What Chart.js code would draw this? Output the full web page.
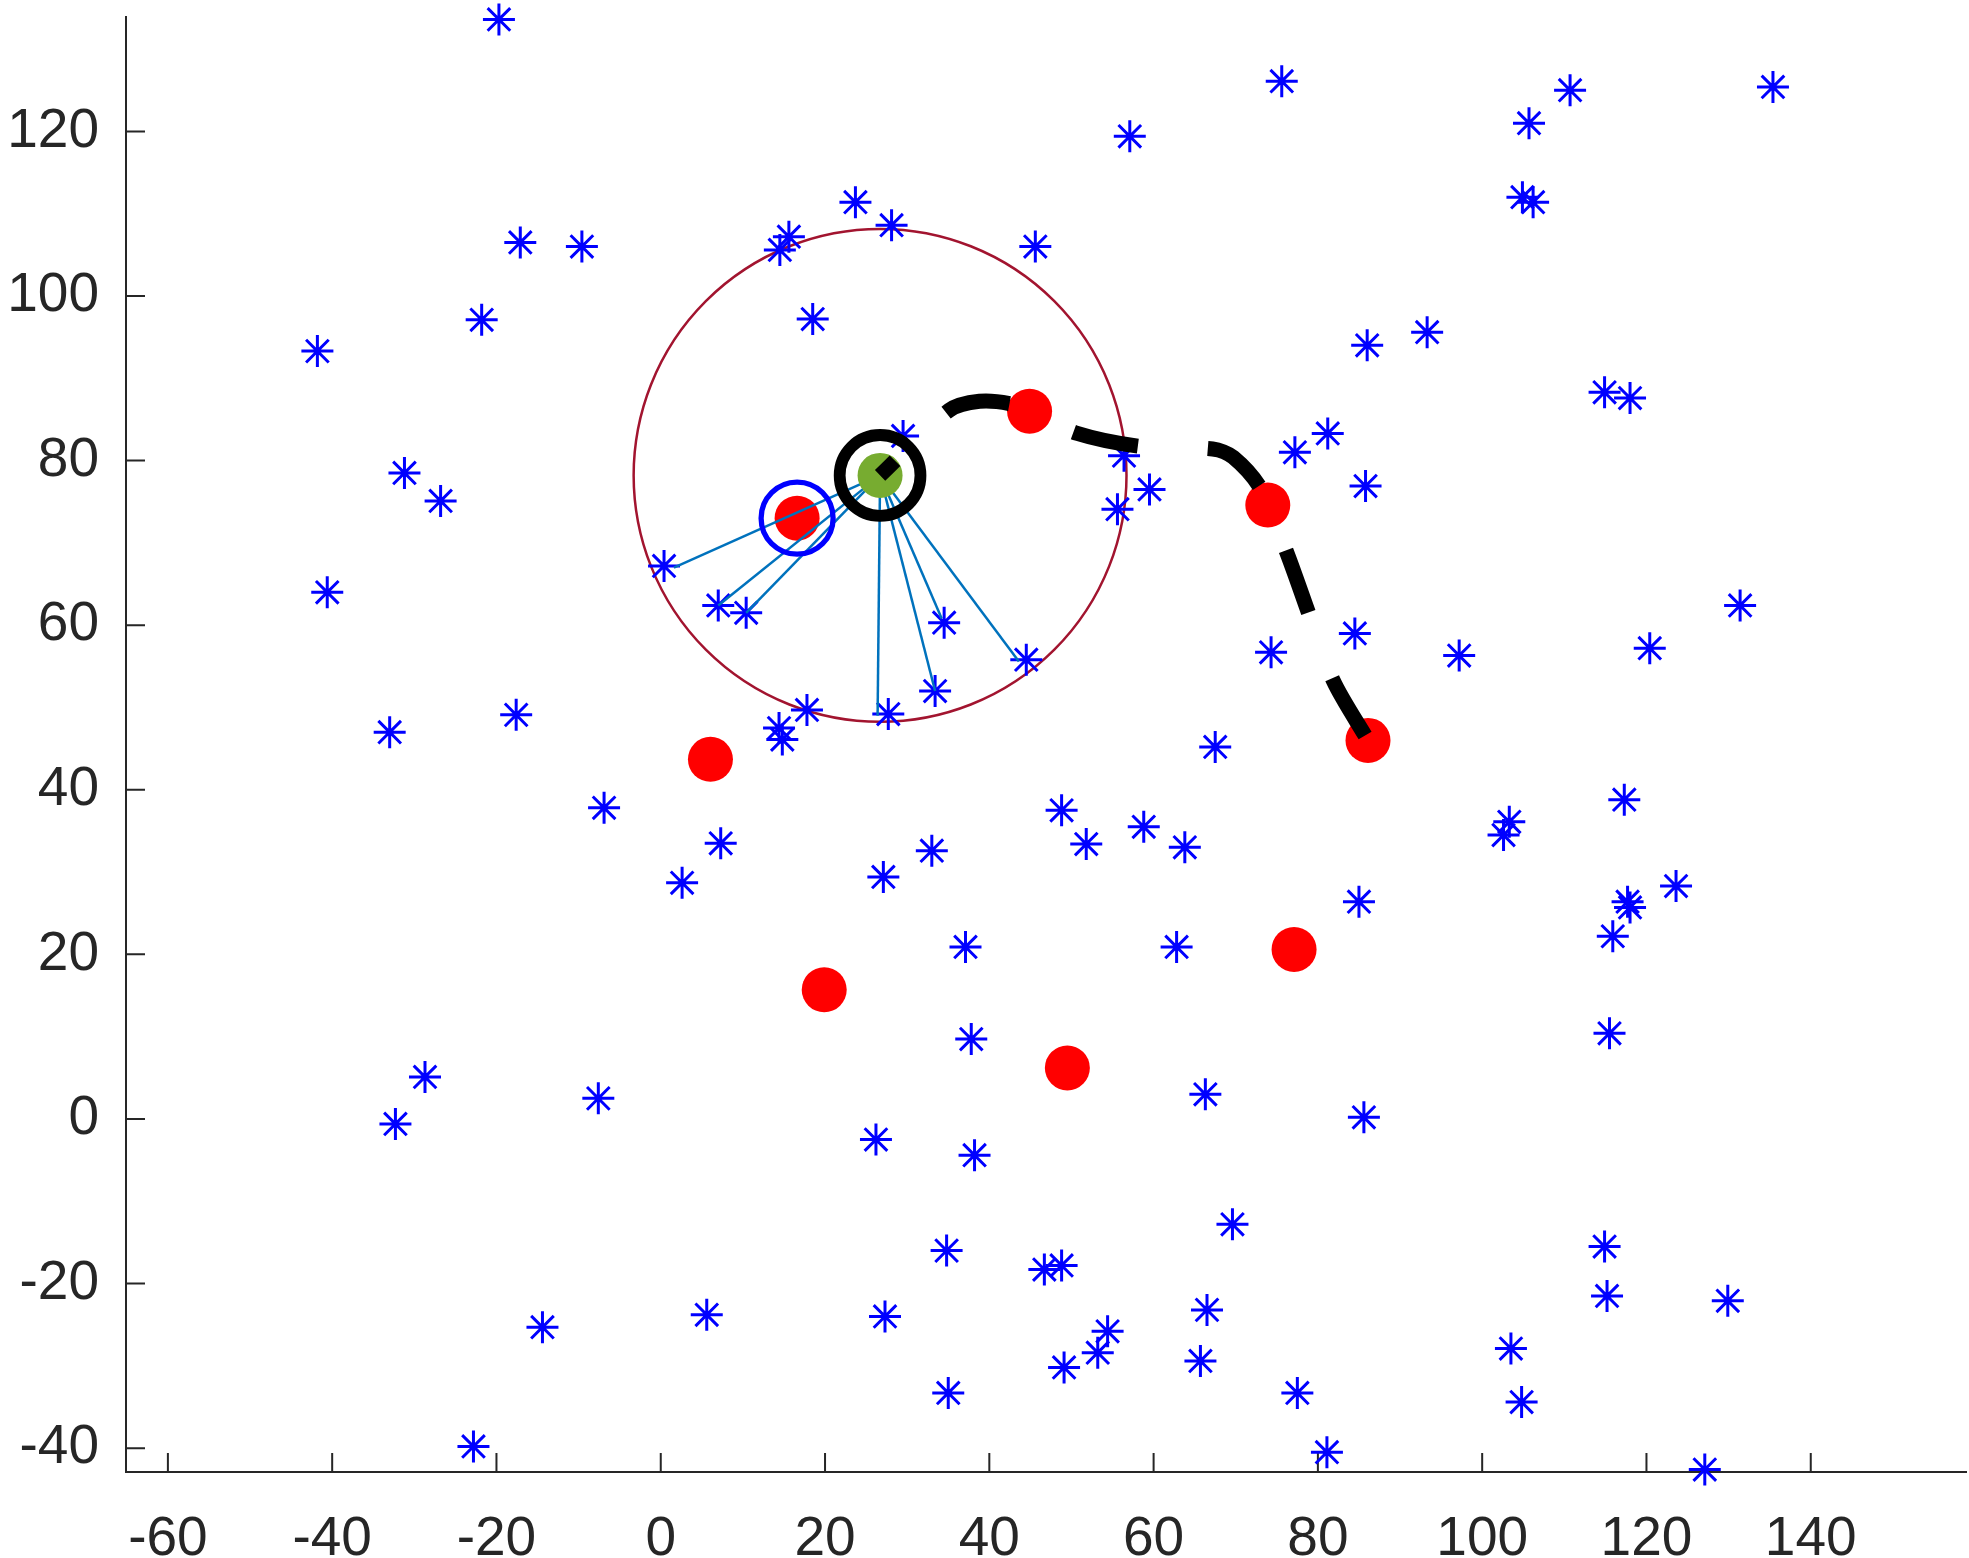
<!DOCTYPE html>
<html>
<head>
<meta charset="utf-8">
<script src="https://cdn.jsdelivr.net/npm/chart.js@4"></script>
<style>
  body { margin: 0; background: #fff; }
  canvas { display: block; }
</style>
</head>
<body>
<canvas id="grafico" width="1969" height="1558"></canvas>
<script>
// - Asteriscos (nos)

const starX = [-19.7, -41.8, -17.1, -9.6, -21.8, -31.2, -26.8, -40.6, -33.0, -17.6,
  -6.9, 7.3, 2.6, -28.7, -32.3, -7.6, -14.4, -22.8, 5.6, 0.4,
  7.0, 10.4, 14.4, 14.8, 17.8, 27.7, 33.4, 34.5, 44.5, 14.5,
  15.6, 23.7, 28.1, 18.5, 45.6, 29.5, 57.1, 75.6, 56.4, 59.5,
  55.6, 77.2, 81.2, 86.0, 93.3, 85.8, 74.3, 84.5, 97.2, 67.5,
  105.7, 110.7, 135.4, 104.9, 106.2, 114.9, 118.0, 131.4, 120.4, 117.3,
  103.3, 102.6, 123.6, 117.7, 118.0, 115.9, 115.5, 85.0, 48.8, 51.8,
  58.8, 63.8, 27.1, 33.0, 37.1, 62.8, 37.8, 66.3, 85.6, 26.2,
  38.2, 69.6, 34.8, 46.7, 48.8, 27.3, 54.4, 53.2, 49.1, 65.7,
  66.5, 35.0, 77.5, 81.1, 114.9, 115.2, 103.5, 104.8, 129.9, 127.1]
const starY = [133.6, 93.3, 106.5, 106.0, 97.1, 78.5, 75.1, 64.0, 47.0, 49.1,
  37.8, 33.5, 28.7, 5.1, -0.6, 2.5, -25.3, -39.8, -23.8, 67.2,
  62.4, 61.5, 47.5, 46.1, 49.7, 49.2, 52.0, 60.3, 55.8, 105.6,
  107.2, 111.4, 108.6, 97.2, 106.0, 83.0, 119.4, 126.1, 80.6, 76.5,
  74.1, 81.0, 83.3, 94.0, 95.6, 76.9, 56.7, 59.0, 56.3, 45.2,
  121.0, 125.0, 125.4, 112.0, 111.4, 88.3, 87.6, 62.4, 57.2, 38.8,
  36.1, 34.5, 28.3, 26.4, 25.7, 22.2, 10.4, 26.4, 37.5, 33.4,
  35.5, 33.0, 29.4, 32.6, 20.9, 20.9, 9.7, 3.0, 0.2, -2.5,
  -4.4, -12.8, -16.0, -18.3, -17.8, -24.0, -25.8, -28.4, -30.2, -29.4,
  -23.2, -33.3, -33.3, -40.5, -15.5, -21.5, -27.9, -34.4, -22.1, -42.6]

// - Pontos vermelhos

const redX = [44.9, 16.6, 73.9, 86.1, 6.05, 19.9, 77.1, 49.5]
const redY = [86.0, 73.0, 74.6, 46.0, 43.7, 15.7, 20.6, 6.2]

// - Centro, raio e alvo

const centerX = 26.7
const centerY = 78.2
const rangeR = 30
const targetX = 16.6
const targetY = 73.0

// - Ligacoes do centro

const linkX = [1.6, 7.0, 10.4, 26.4, 33.4, 34.2, 43.6]
const linkY = [67.0, 62.4, 61.5, 49.0, 52.0, 60.8, 55.6]

// - Trajetoria tracejada

const pathX = [26.7, 35.1, 38.8, 42.6, 44.9, 50.7, 58.6, 67.2, 69.7, 73.1, 76.3, 79.0, 81.9, 86.1]
const pathY = [78.2, 86.1, 87.2, 86.9, 86.0, 83.3, 81.7, 81.4, 80.4, 76.5, 68.6, 61.1, 53.2, 46.0]

// - Eixos

const xTicks = [-60, -40, -20, 0, 20, 40, 60, 80, 100, 120, 140]
const yTicks = [-40, -20, 0, 20, 40, 60, 80, 100, 120]

const pts = (xs, ys) => xs.map((x, i) => ({ x: x, y: ys[i] }))

const linkSets = linkX.map((x, i) => ({
  data: [{ x: centerX, y: centerY }, { x: x, y: linkY[i] }],
  showLine: true,
  borderColor: '#0072BD',
  borderWidth: 2.5,
  pointRadius: 0,
  clip: false,
  order: 5
}))

const eixoCor = '#262626'
const fonte = { family: "'Liberation Sans', Arial, sans-serif", size: 55 }

const insideTicks = {
  id: 'insideTicks',
  beforeDatasetsDraw(chart) {
    const { ctx, chartArea, scales } = chart
    ctx.save()
    ctx.strokeStyle = eixoCor
    ctx.lineWidth = 2
    ctx.beginPath()
    xTicks.forEach(v => {
      const px = scales.x.getPixelForValue(v)
      ctx.moveTo(px, chartArea.bottom)
      ctx.lineTo(px, chartArea.bottom - 19)
    })
    yTicks.forEach(v => {
      const py = scales.y.getPixelForValue(v)
      ctx.moveTo(chartArea.left, py)
      ctx.lineTo(chartArea.left + 19, py)
    })
    ctx.stroke()
    ctx.restore()
  }
}

const data = {
  datasets: [
    {
      data: [{ x: centerX, y: centerY }],
      pointStyle: 'circle',
      pointRadius: (c) => {
        const s = c.chart.scales.x
        return Math.abs(s.getPixelForValue(centerX + rangeR) - s.getPixelForValue(centerX))
      },
      backgroundColor: 'rgba(0,0,0,0)',
      borderColor: '#A2142F',
      borderWidth: 2.5,
      clip: false,
      order: 8
    },
    {
      data: pts(starX, starY),
      pointStyle: 'star',
      pointRadius: 16,
      borderColor: '#0000FF',
      borderWidth: 3,
      clip: false,
      order: 7
    },
    {
      data: pts(redX, redY),
      pointStyle: 'circle',
      pointRadius: 22.5,
      backgroundColor: '#FF0000',
      borderWidth: 0,
      clip: false,
      order: 6
    },
    ...linkSets,
    {
      data: [{ x: targetX, y: targetY }],
      pointStyle: 'circle',
      pointRadius: 36,
      backgroundColor: 'rgba(0,0,0,0)',
      borderColor: '#0000FF',
      borderWidth: 5.3,
      clip: false,
      order: 4
    },
    {
      data: [{ x: centerX, y: centerY }],
      pointStyle: 'circle',
      pointRadius: 22.5,
      backgroundColor: '#77AC30',
      borderWidth: 0,
      clip: false,
      order: 3
    },
    {
      data: [{ x: centerX, y: centerY }],
      pointStyle: 'circle',
      pointRadius: 40.4,
      backgroundColor: 'rgba(0,0,0,0)',
      borderColor: '#000000',
      borderWidth: 11.8,
      clip: false,
      order: 2
    },
    {
      data: pts(pathX, pathY),
      showLine: true,
      borderColor: '#000000',
      borderWidth: 15,
      borderDash: [66, 70],
      borderDashOffset: 45,
      borderCapStyle: 'butt',
      tension: 0.3,
      pointRadius: 0,
      clip: false,
      order: 1
    }
  ]
}

const config = {
  type: 'scatter',
  data: data,
  plugins: [insideTicks],
  options: {
    responsive: false,
    animation: false,
    devicePixelRatio: 1,
    events: [],
    layout: { autoPadding: false, padding: { top: 17, right: 3, left: 0, bottom: 0 } },
    plugins: {
      legend: { display: false },
      tooltip: { enabled: false }
    },
    scales: {
      x: {
        type: 'linear',
        min: -65.1,
        max: 158.9,
        grid: { display: false },
        border: { display: true, color: eixoCor, width: 2 },
        ticks: { stepSize: 20, includeBounds: false, color: eixoCor, font: fonte, padding: 27, maxRotation: 0 },
        afterFit(scale) {
          scale.height = 86
          scale.paddingLeft = 0
          scale.paddingRight = 0
        }
      },
      y: {
        type: 'linear',
        min: -42.9,
        max: 133.9,
        grid: { display: false },
        border: { display: true, color: eixoCor, width: 2 },
        ticks: { stepSize: 20, includeBounds: false, color: eixoCor, font: fonte, padding: 19 },
        afterFit(scale) {
          scale.width = 126
          scale.paddingTop = 0
          scale.paddingBottom = 0
        }
      }
    }
  }
}

const grafico = new Chart(
  document.getElementById('grafico'),
  config
)
</script>
</body>
</html>
